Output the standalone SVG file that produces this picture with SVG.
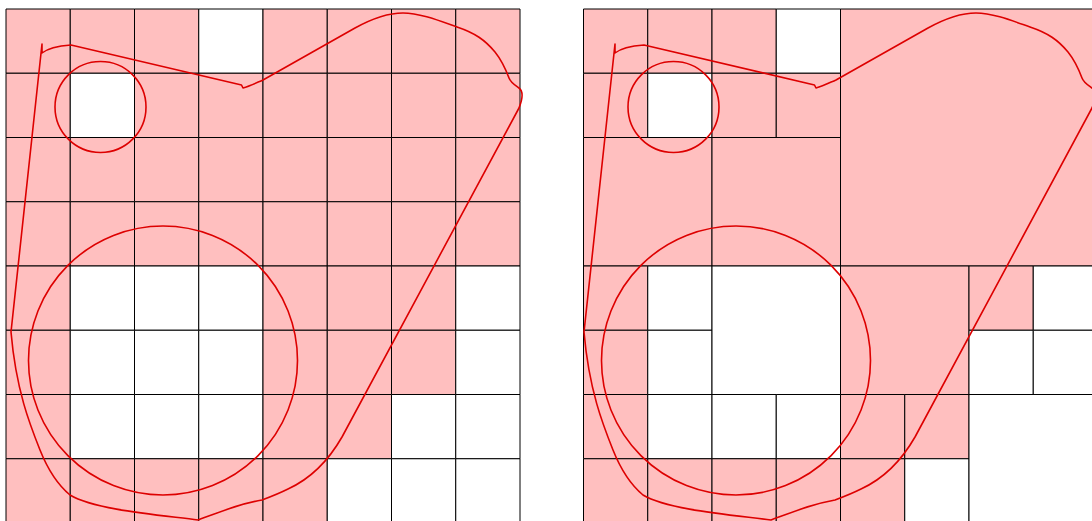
<svg xmlns="http://www.w3.org/2000/svg" xmlns:xlink="http://www.w3.org/1999/xlink" width="1092" height="521" viewBox="0 0 1092 521">
<style>
.p{fill:#ffbfbf;stroke:#000;stroke-width:1;vector-effect:non-scaling-stroke}
.w{fill:#fff;stroke:#000;stroke-width:1;vector-effect:non-scaling-stroke}
.c{fill:none;stroke:#dd0000;stroke-width:1.6;stroke-linejoin:round}
</style>
<defs>
<g id="curves">
<circle class="c" cx="100.5" cy="107" r="45.5"/>
<circle class="c" cx="163" cy="360.5" r="134.5"/>
<path class="c" d="M 11,332 L 42,44 L 42,53 C 47,49 58,46 71,45 L 241.5,85 L 243,88 C 250,86 256,83 263,80 L 355,28 C 375,17 390,13 403,13 C 420,13 440,21 457,27 C 475,33 485,40 495,52 C 503,62 506,70 509,78 C 511,83 515,85 519,88 C 523,91 523,98 519,108 L 342,437 C 330,458 312,478 288,489 C 278,494 270,497 262,500 C 240,504 225,510 198,520 C 160,515 95,510 70,495 C 58,485 48,470 40,450 C 30,425 16,390 11,332 Z"/>
</g>
</defs>
<g id="grid-left" transform="translate(6,9) scale(64.25)">
<rect class="p" x="0" y="0" width="1" height="1"/><rect class="p" x="1" y="0" width="1" height="1"/><rect class="p" x="2" y="0" width="1" height="1"/><rect class="w" x="3" y="0" width="1" height="1"/><rect class="p" x="4" y="0" width="1" height="1"/><rect class="p" x="5" y="0" width="1" height="1"/><rect class="p" x="6" y="0" width="1" height="1"/><rect class="p" x="7" y="0" width="1" height="1"/>
<rect class="p" x="0" y="1" width="1" height="1"/><rect class="w" x="1" y="1" width="1" height="1"/><rect class="p" x="2" y="1" width="1" height="1"/><rect class="p" x="3" y="1" width="1" height="1"/><rect class="p" x="4" y="1" width="1" height="1"/><rect class="p" x="5" y="1" width="1" height="1"/><rect class="p" x="6" y="1" width="1" height="1"/><rect class="p" x="7" y="1" width="1" height="1"/>
<rect class="p" x="0" y="2" width="1" height="1"/><rect class="p" x="1" y="2" width="1" height="1"/><rect class="p" x="2" y="2" width="1" height="1"/><rect class="p" x="3" y="2" width="1" height="1"/><rect class="p" x="4" y="2" width="1" height="1"/><rect class="p" x="5" y="2" width="1" height="1"/><rect class="p" x="6" y="2" width="1" height="1"/><rect class="p" x="7" y="2" width="1" height="1"/>
<rect class="p" x="0" y="3" width="1" height="1"/><rect class="p" x="1" y="3" width="1" height="1"/><rect class="p" x="2" y="3" width="1" height="1"/><rect class="p" x="3" y="3" width="1" height="1"/><rect class="p" x="4" y="3" width="1" height="1"/><rect class="p" x="5" y="3" width="1" height="1"/><rect class="p" x="6" y="3" width="1" height="1"/><rect class="p" x="7" y="3" width="1" height="1"/>
<rect class="p" x="0" y="4" width="1" height="1"/><rect class="w" x="1" y="4" width="1" height="1"/><rect class="w" x="2" y="4" width="1" height="1"/><rect class="w" x="3" y="4" width="1" height="1"/><rect class="p" x="4" y="4" width="1" height="1"/><rect class="p" x="5" y="4" width="1" height="1"/><rect class="p" x="6" y="4" width="1" height="1"/><rect class="w" x="7" y="4" width="1" height="1"/>
<rect class="p" x="0" y="5" width="1" height="1"/><rect class="w" x="1" y="5" width="1" height="1"/><rect class="w" x="2" y="5" width="1" height="1"/><rect class="w" x="3" y="5" width="1" height="1"/><rect class="p" x="4" y="5" width="1" height="1"/><rect class="p" x="5" y="5" width="1" height="1"/><rect class="p" x="6" y="5" width="1" height="1"/><rect class="w" x="7" y="5" width="1" height="1"/>
<rect class="p" x="0" y="6" width="1" height="1"/><rect class="w" x="1" y="6" width="1" height="1"/><rect class="w" x="2" y="6" width="1" height="1"/><rect class="w" x="3" y="6" width="1" height="1"/><rect class="p" x="4" y="6" width="1" height="1"/><rect class="p" x="5" y="6" width="1" height="1"/><rect class="w" x="6" y="6" width="1" height="1"/><rect class="w" x="7" y="6" width="1" height="1"/>
<rect class="p" x="0" y="7" width="1" height="1"/><rect class="p" x="1" y="7" width="1" height="1"/><rect class="p" x="2" y="7" width="1" height="1"/><rect class="p" x="3" y="7" width="1" height="1"/><rect class="p" x="4" y="7" width="1" height="1"/><rect class="w" x="5" y="7" width="1" height="1"/><rect class="w" x="6" y="7" width="1" height="1"/><rect class="w" x="7" y="7" width="1" height="1"/>
</g>
<g id="grid-right" transform="translate(583.5,9) scale(64.25)">
<rect class="p" x="0" y="0" width="1" height="1"/><rect class="p" x="1" y="0" width="1" height="1"/><rect class="p" x="0" y="1" width="1" height="1"/><rect class="w" x="1" y="1" width="1" height="1"/>
<rect class="p" x="2" y="0" width="1" height="1"/><rect class="w" x="3" y="0" width="1" height="1"/><rect class="p" x="2" y="1" width="1" height="1"/><rect class="p" x="3" y="1" width="1" height="1"/>
<rect class="p" x="0" y="2" width="2" height="2"/><rect class="p" x="2" y="2" width="2" height="2"/>
<rect class="p" x="4" y="0" width="4" height="4"/>
<rect class="p" x="0" y="4" width="1" height="1"/><rect class="w" x="1" y="4" width="1" height="1"/><rect class="p" x="0" y="5" width="1" height="1"/><rect class="w" x="1" y="5" width="1" height="1"/>
<rect class="w" x="2" y="4" width="2" height="2"/>
<rect class="p" x="0" y="6" width="1" height="1"/><rect class="w" x="1" y="6" width="1" height="1"/><rect class="p" x="0" y="7" width="1" height="1"/><rect class="p" x="1" y="7" width="1" height="1"/>
<rect class="w" x="2" y="6" width="1" height="1"/><rect class="w" x="3" y="6" width="1" height="1"/><rect class="p" x="2" y="7" width="1" height="1"/><rect class="p" x="3" y="7" width="1" height="1"/>
<rect class="p" x="4" y="4" width="2" height="2"/>
<rect class="p" x="6" y="4" width="1" height="1"/><rect class="w" x="7" y="4" width="1" height="1"/><rect class="w" x="6" y="5" width="1" height="1"/><rect class="w" x="7" y="5" width="1" height="1"/>
<rect class="p" x="4" y="6" width="1" height="1"/><rect class="p" x="5" y="6" width="1" height="1"/><rect class="p" x="4" y="7" width="1" height="1"/><rect class="w" x="5" y="7" width="1" height="1"/>
<rect class="w" x="6" y="6" width="2" height="2"/>
</g>
<g id="shapes-left"><use xlink:href="#curves" href="#curves"/></g>
<g id="shapes-right"><use xlink:href="#curves" href="#curves" transform="translate(573,0)"/></g>
</svg>
